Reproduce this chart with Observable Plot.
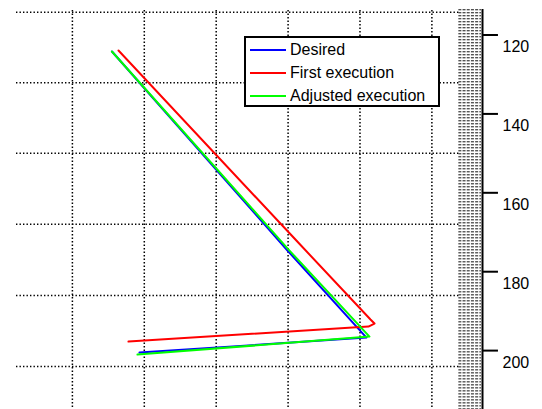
<!DOCTYPE html>
<html>
<head>
<meta charset="utf-8">
<script src="https://cdn.jsdelivr.net/npm/d3@7"></script>
<script src="https://cdn.jsdelivr.net/npm/@observablehq/plot@0.6"></script>
<style>
  body { margin: 0; background: #fff; }
  #wrap { position: relative; width: 542px; height: 409px; overflow: hidden; font-family: "Liberation Sans", Arial, Helvetica, sans-serif; }
  #wrap svg { display: block; }
  .legend { position: absolute; left: 244px; top: 36px; width: 192px; height: 67px; border: 2px solid #000; background: #fff; }
  .row { position: absolute; left: 4px; height: 20px; display: flex; align-items: center; font-size: 16px; color: #000; white-space: nowrap; }
  .swatch { width: 36px; height: 2px; margin-right: 4px; }
</style>
</head>
<body>
<div id="wrap"></div>
<script>
// Series (x in grid units, y in axis units; y grows downward)
const desiredX  = [1.550, 3.992, 5.090, 1.933];
const desiredY  = [124.18, 174.64, 196.70, 200.50];
const firstX    = [1.641, 4.115, 5.146, 5.202, 5.118, 1.780];
const firstY    = [123.93, 172.10, 192.13, 193.15, 193.91, 197.71];
const adjustedX = [1.550, 4.019, 5.132, 1.905];
const adjustedY = [124.18, 174.64, 196.44, 201.01];

const seriesNames  = ["Desired", "First execution", "Adjusted execution"];
const seriesColors = ["#0000ff", "#ff0000", "#00ff00"];

// Axis ticks and grid positions
const yTicks = [120, 140, 160, 180, 200];
const gridX = [1, 2, 3, 4, 5, 6];
const gridY = [114.2, 132.1, 150.0, 168.0, 186.0, 204.0];

const toRows = (xs, ys, name) => xs.map((x, i) => ({x, y: ys[i], name}));
const desired  = toRows(desiredX, desiredY, seriesNames[0]);
const first    = toRows(firstX, firstY, seriesNames[1]);
const adjusted = toRows(adjustedX, adjustedY, seriesNames[2]);

const X0 = 0, X1 = 6.704;          // plot frame in x units
const Y0 = 111.25, Y1 = 214.93;    // plot frame in y units
const gridLeft = 0.2225, gridRight = 6.398, gridTop = 113.79;
const tickEnd = 6.926, labelX = 6.982;
const hatchRows = d3.range(113.6, Y1, 0.7607);

const chart = Plot.plot({
  width: 542,
  height: 409,
  marginLeft: 0,
  marginRight: 60,
  marginTop: 0,
  marginBottom: 0,
  style: {fontFamily: '"Liberation Sans", Arial, Helvetica, sans-serif', background: "#fff"},
  x: {domain: [X0, X1], axis: null},
  y: {domain: [Y0, Y1], reverse: true, axis: null},
  marks: [
    // dense hatched strip
    Plot.ruleY(hatchRows, {x1: 6.375, x2: 6.69, stroke: "#111", strokeWidth: 1, strokeDasharray: "3,1.2"}),
    // dotted grid
    Plot.ruleX(gridX, {y1: gridTop, y2: Y1, stroke: "#000", strokeWidth: 1.5, strokeDasharray: "1.4,2.1"}),
    Plot.ruleY(gridY, {x1: gridLeft, x2: gridRight, stroke: "#000", strokeWidth: 1.5, strokeDasharray: "1.4,2.1"}),
    // axis line, ticks, labels
    Plot.ruleX([X1], {y1: 113.55, y2: Y1, stroke: "#000", strokeWidth: 2}),
    Plot.ruleY(yTicks, {x1: X1, x2: tickEnd, stroke: "#000", strokeWidth: 2}),
    Plot.text(yTicks, {x: labelX, y: d => d, text: d => String(d), textAnchor: "start", dy: 12, fontSize: 16, fill: "#000"}),
    // series
    Plot.line(desired,  {x: "x", y: "y", stroke: seriesColors[0], strokeWidth: 2}),
    Plot.line(first,    {x: "x", y: "y", stroke: seriesColors[1], strokeWidth: 2}),
    Plot.line(adjusted, {x: "x", y: "y", stroke: seriesColors[2], strokeWidth: 2})
  ]
});

const wrap = document.getElementById("wrap");
wrap.appendChild(chart);

// legend
const legend = document.createElement("div");
legend.className = "legend";
const rowTops = [2, 25, 48];
seriesNames.forEach((name, i) => {
  const row = document.createElement("div");
  row.className = "row";
  row.style.top = rowTops[i] + "px";
  const sw = document.createElement("span");
  sw.className = "swatch";
  sw.style.background = seriesColors[i];
  const t = document.createElement("span");
  t.textContent = name;
  row.appendChild(sw);
  row.appendChild(t);
  legend.appendChild(row);
});
wrap.appendChild(legend);
</script>
</body>
</html>
